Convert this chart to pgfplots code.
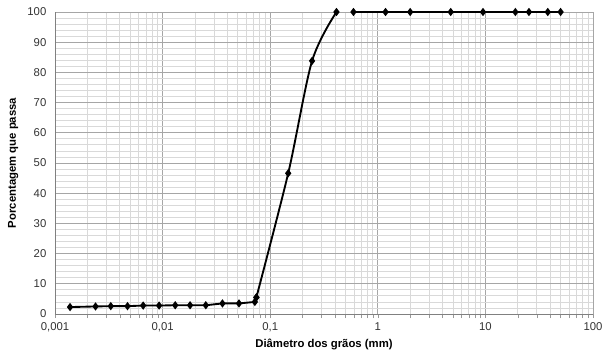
\documentclass[border=0pt]{standalone}
\usepackage{pgfplots}
\pgfplotsset{compat=1.18}
\usepackage{fontspec}
\setmainfont{Liberation Sans}
\begin{document}
\begin{tikzpicture}
\begin{axis}[name=ax, at={(0,0)}, anchor=south west,
  scale only axis, width=403.5pt, height=226.5pt,
  xmode=log, log basis x=10, xmin=0.001, xmax=100, ymin=0, ymax=100,
  xtick={0.001,0.01,0.1,1,10,100},
  xticklabels={{0,001},{0,01},{0,1},1,10,100},
  minor xtick={0.002,0.003,0.004,0.005,0.006,0.007,0.008,0.009,
    0.02,0.03,0.04,0.05,0.06,0.07,0.08,0.09,
    0.2,0.3,0.4,0.5,0.6,0.7,0.8,0.9,
    2,3,4,5,6,7,8,9,20,30,40,50,60,70,80,90},
  ytick={0,10,...,100}, minor y tick num=4,
  grid=both,
  major grid style={draw=black!35, line width=0.5pt},
  minor grid style={draw=black!15, line width=0.6pt},
  axis lines*=left,
  axis line style={draw=black!50, line width=0.6pt},
  tick align=outside, major tick length=3pt, minor tick length=3pt,
  tick style={draw=black!40},
  every major y tick/.style={draw=none},
  every minor y tick/.style={draw=none},
  ticklabel style={font=\fontsize{8.5}{10}\selectfont, text=black!80},
  /pgf/number format/assume math mode=true,
  xlabel={Diâmetro dos grãos (mm)},
  ylabel={Porcentagem que passa},
  label style={font=\fontsize{8.5}{10}\selectfont\bfseries},
  xlabel style={yshift=2pt},
  clip=false,
]
\addplot[black, line width=1.4pt, mark=diamond*, mark size=2pt] coordinates {
(0.00138,2.3) (0.00238,2.5) (0.0033,2.6) (0.00472,2.6) (0.0066,2.8)
(0.00928,2.8) (0.0131,2.9) (0.018,2.9) (0.0252,2.9) (0.036,3.5)
(0.0513,3.5) (0.072,4.0) (0.0744,5.5)
};
\addplot[black, line width=1.4pt, smooth, mark=diamond*, mark size=2pt] coordinates {
(0.0744,5.5) (0.147,46.6) (0.245,83.8) (0.413,100)
};
\addplot[black, line width=1.4pt, mark=diamond*, mark size=2pt] coordinates {
(0.594,100) (1.18,100) (2.0,100) (4.76,100) (9.5,100) (19,100) (25.4,100) (38,100) (50,100)
};
\end{axis}
\pgfresetboundingbox
\path ([shift={(-41.25pt,-29.25pt)}]ax.south west) rectangle ([shift={(6.75pt,9pt)}]ax.north east);
\end{tikzpicture}
\end{document}
